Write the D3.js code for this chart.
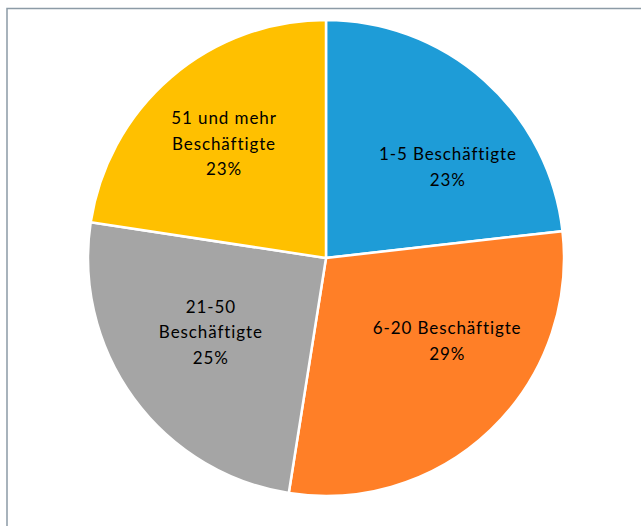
<!DOCTYPE html>
<html>
<head>
<meta charset="utf-8">
<script src="https://cdn.jsdelivr.net/npm/d3@7"></script>
<style>
  body { margin: 0; background: #fff; }
  text { font-family: Lato, "Open Sans", sans-serif; }
</style>
</head>
<body>
<svg width="641" height="526"></svg>
<script>
// data
var categories = ["1-5 Beschäftigte", "6-20 Beschäftigte", "21-50 Beschäftigte", "51 und mehr Beschäftigte"];
var shares = [23.2, 29.3, 24.9, 22.6];
var percentLabels = ["23%", "29%", "25%", "23%"];
var labelLines = [
  ["1-5 Beschäftigte"],
  ["6-20 Beschäftigte"],
  ["21-50", "Beschäftigte"],
  ["51 und mehr", "Beschäftigte"]
];
var colors = ["#1e9cd7", "#ff7f27", "#a5a5a5", "#ffc000"];

var svg = d3.select("svg"),
    width = +svg.attr("width"),
    height = +svg.attr("height");

// chart area frame (only left and top edges are in view)
svg.append("rect")
    .attr("x", 7)
    .attr("y", 8.5)
    .attr("width", width + 20)
    .attr("height", height + 20)
    .attr("fill", "none")
    .attr("stroke", "#8c9ba6")
    .attr("stroke-width", 1.5);

var cx = 326, cy = 258, radius = 238;

var pie = d3.pie().sort(null).value(function(d) { return d; });
var arc = d3.arc().innerRadius(0).outerRadius(radius);

var arcs = pie(shares);

var g = svg.append("g").attr("transform", "translate(" + cx + "," + cy + ")");

g.selectAll("path")
    .data(arcs)
    .enter().append("path")
    .attr("d", arc)
    .attr("fill", function(d, i) { return colors[i]; })
    .attr("stroke", "#fff")
    .attr("stroke-width", 2.5);

// label placement: angle (deg from 12 o'clock) and distance, like Excel's best fit
var labelPos = [[53.3, 152], [124.5, 147], [237.2, 137], [318.2, 153]];
var lineH = 25.5;

var labels = g.selectAll("g.label")
    .data(arcs)
    .enter().append("g")
    .attr("class", "label")
    .attr("transform", function(d, i) {
      var a = labelPos[i][0] * Math.PI / 180, r = labelPos[i][1];
      return "translate(" + (Math.sin(a) * r) + "," + (-Math.cos(a) * r) + ")";
    });

labels.each(function(d, i) {
  var lines = labelLines[i].concat([percentLabels[i]]);
  var t = d3.select(this).append("text")
      .attr("text-anchor", "middle")
      .attr("font-size", "17px")
      .attr("letter-spacing", "0.9px")
      .attr("fill", "#000");
  var top = -(lines.length - 1) * lineH / 2;
  lines.forEach(function(s, j) {
    t.append("tspan")
      .attr("x", 0)
      .attr("y", top + j * lineH)
      .attr("dy", "0.35em")
      .text(s);
  });
});
</script>
</body>
</html>
